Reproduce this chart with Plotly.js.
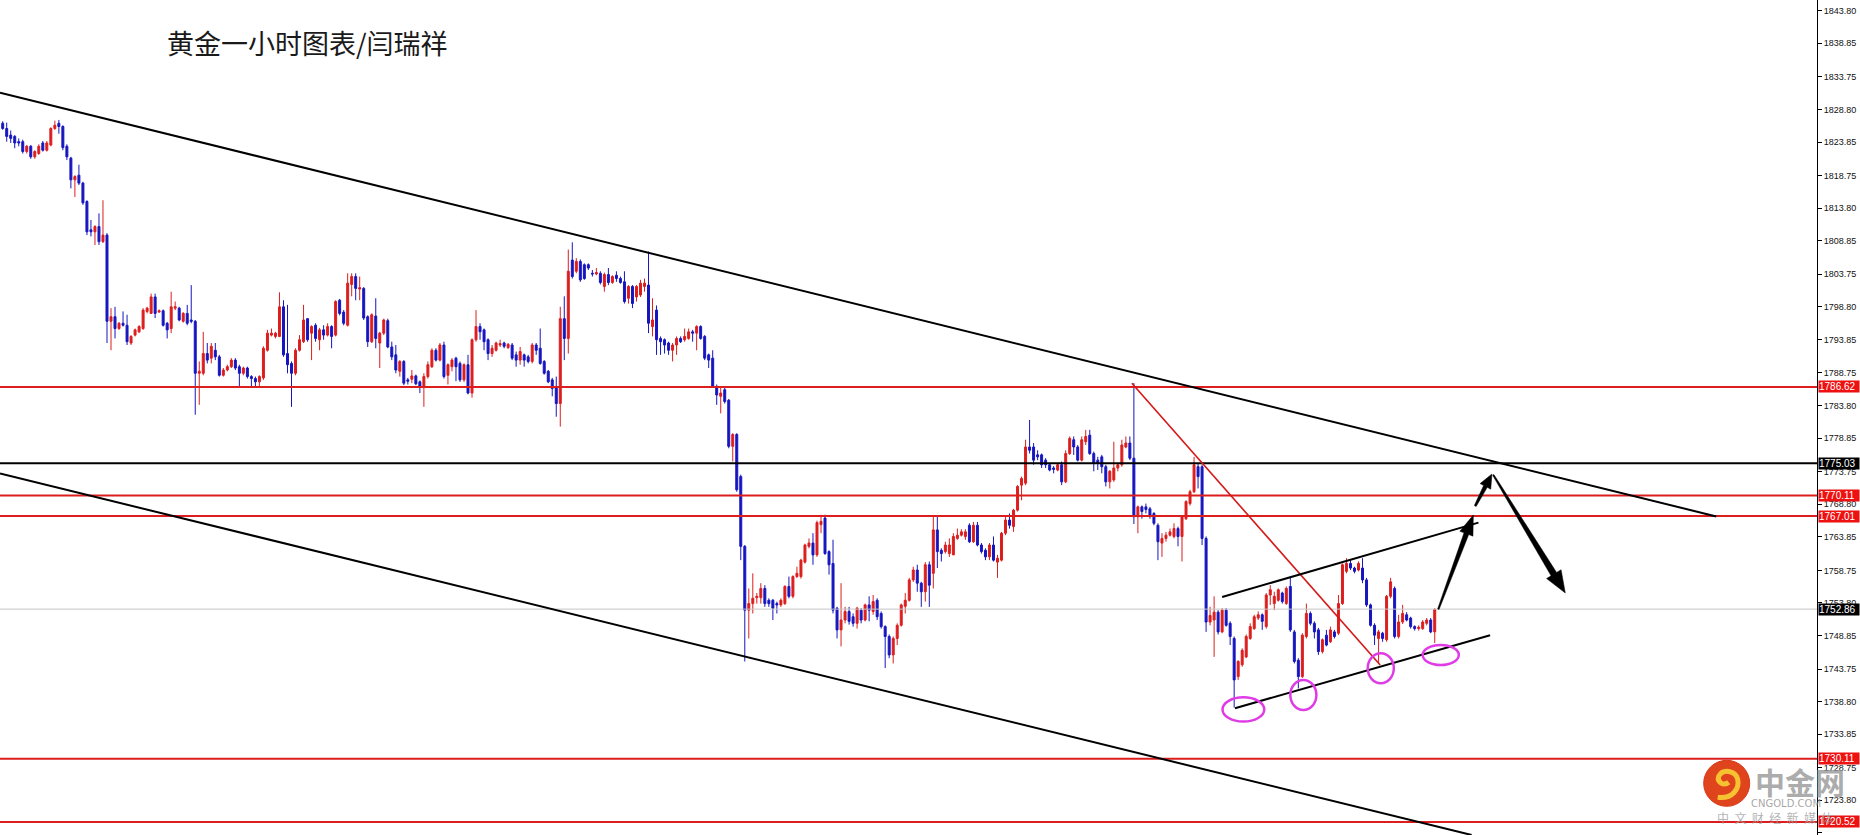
<!DOCTYPE html>
<html><head><meta charset="utf-8">
<script src="https://cdn.plot.ly/plotly-3.0.1.min.js"></script>
<style>html,body{margin:0;padding:0;background:#fff;overflow:hidden}#chart{width:1860px;height:835px}</style>
</head><body><div id="chart"></div>
<script>
const chartTitle = '黄金一小时图表/闫瑞祥';

const openP = [
1826.7,1825.9,1824.9,1824.7,1823.9,1823.9,1822.4,1823.2,1821.6,1822.1,1823.7,1822.6,1823.4,1825.9,1826.7,1826.2,1823.2,1821.4,1818.1,1818.8,
1817.6,1814.8,1810.5,1810.2,1811.0,1808.7,1809.7,1796.6,1797.3,1795.5,1796.3,1796.0,1793.3,1794.5,1795.0,1795.5,1798.1,1797.8,1800.3,1798.0,
1798.2,1796.3,1795.5,1798.6,1798.6,1796.6,1797.8,1796.8,1796.6,1788.7,1788.7,1791.7,1791.0,1792.2,1791.2,1788.4,1789.2,1789.7,1790.7,1789.7,
1788.7,1789.5,1788.2,1787.9,1787.4,1788.0,1792.2,1794.5,1794.3,1794.3,1798.8,1791.7,1790.2,1788.7,1792.2,1793.5,1797.0,1794.8,1796.0,1793.8,
1795.3,1794.5,1795.8,1794.5,1799.8,1798.0,1796.0,1802.2,1803.4,1801.5,1801.6,1797.3,1793.5,1797.4,1793.3,1794.8,1796.7,1792.7,1791.5,1789.0,
1790.5,1787.7,1787.8,1788.3,1787.4,1786.7,1788.2,1789.7,1792.2,1790.7,1793.0,1788.4,1789.7,1791.0,1790.2,1787.7,1790.0,1785.7,1793.8,1795.8,
1795.3,1793.8,1791.7,1792.2,1793.0,1793.3,1792.6,1793.0,1791.5,1790.7,1791.5,1791.2,1790.5,1793.0,1792.5,1790.5,1789.0,1787.7,1786.7,1784.1,
1797.0,1794.0,1805.9,1804.2,1805.7,1805.2,1805.2,1803.9,1803.8,1803.9,1801.9,1803.7,1802.5,1803.6,1803.1,1802.6,1800.1,1801.9,1800.3,1800.6,
1801.9,1802.1,1795.8,1798.3,1794.0,1793.8,1793.3,1792.2,1793.0,1794.0,1793.8,1794.0,1795.0,1794.8,1795.8,1794.3,1791.5,1791.0,1786.7,1785.2,
1786.2,1784.6,1777.6,1779.4,1773.0,1762.4,1752.7,1753.7,1754.6,1754.6,1756.0,1754.2,1754.2,1753.7,1753.5,1753.7,1756.3,1754.8,1757.8,1757.8,
1760.0,1762.4,1762.9,1761.1,1765.7,1766.7,1761.6,1759.8,1753.0,1749.7,1751.2,1752.5,1751.7,1750.7,1752.7,1751.2,1753.5,1752.5,1754.2,1752.2,
1750.2,1748.7,1745.9,1748.4,1750.4,1753.3,1754.2,1757.3,1758.8,1756.8,1755.5,1759.6,1758.3,1764.9,1761.8,1761.6,1761.3,1761.1,1763.6,1764.1,
1763.9,1765.6,1763.1,1765.6,1762.6,1761.8,1760.8,1762.6,1760.0,1760.3,1764.4,1766.4,1765.4,1767.9,1771.7,1772.0,1777.5,1777.5,1776.3,1776.3,
1775.5,1774.8,1774.3,1774.0,1774.8,1772.2,1776.5,1778.6,1777.5,1775.5,1778.3,1779.3,1776.5,1775.5,1776.0,1774.5,1772.2,1772.5,1774.3,1774.8,
1777.5,1778.1,1775.8,1766.9,1768.4,1768.4,1768.1,1767.4,1765.6,1762.9,1763.6,1764.1,1763.9,1765.1,1763.9,1766.6,1768.9,1770.7,1774.5,1774.5,
1763.6,1750.9,1751.2,1752.4,1749.4,1752.7,1750.7,1748.4,1742.6,1744.4,1745.6,1748.4,1749.9,1751.5,1752.0,1750.2,1755.0,1753.7,1754.2,1755.3,
1753.7,1756.3,1749.4,1745.1,1742.6,1748.7,1752.2,1750.7,1749.7,1746.4,1748.9,1747.9,1749.4,1749.2,1753.7,1758.6,1759.8,1759.1,1758.8,1759.1,
1757.3,1753.5,1750.4,1748.4,1749.2,1748.2,1754.8,1756.0,1748.7,1750.9,1752.0,1751.5,1750.2,1749.9,1749.9,1750.7,1751.2,1749.4
];
const highP = [
1827.0,1826.8,1825.6,1824.9,1824.4,1824.2,1823.4,1823.4,1822.6,1823.5,1824.0,1824.0,1826.1,1827.1,1827.2,1826.4,1823.5,1821.6,1818.8,1820.4,
1817.8,1815.0,1812.0,1811.2,1813.0,1815.0,1810.0,1798.6,1798.8,1796.5,1798.1,1797.6,1794.5,1795.5,1796.0,1798.6,1798.8,1800.8,1800.8,1798.4,
1798.4,1796.5,1801.1,1799.6,1798.8,1798.0,1799.1,1802.1,1796.8,1790.5,1795.0,1793.3,1793.3,1793.3,1791.5,1789.5,1790.0,1791.0,1791.0,1790.0,
1789.7,1789.7,1788.4,1788.2,1788.4,1792.8,1795.3,1795.5,1795.0,1801.0,1799.8,1799.1,1790.5,1792.5,1794.5,1799.1,1797.1,1796.0,1796.3,1795.6,
1796.0,1796.3,1796.0,1799.8,1800.0,1798.3,1803.9,1803.9,1803.9,1803.4,1801.8,1797.5,1797.8,1800.1,1795.0,1797.0,1797.0,1793.5,1793.0,1790.7,
1790.7,1788.0,1789.2,1788.5,1787.6,1788.7,1790.5,1792.5,1792.5,1793.3,1793.5,1790.2,1791.0,1791.2,1790.5,1790.2,1791.5,1794.0,1798.3,1796.3,
1795.5,1794.0,1793.0,1793.5,1793.8,1793.5,1793.3,1793.3,1792.0,1792.7,1791.7,1791.5,1793.3,1793.3,1795.5,1790.7,1789.2,1788.0,1788.2,1798.8,
1800.4,1807.5,1808.6,1806.2,1806.0,1805.4,1805.4,1804.4,1804.7,1804.2,1804.0,1804.7,1803.6,1804.2,1803.4,1804.2,1802.1,1802.1,1802.1,1802.9,
1803.1,1807.2,1800.1,1799.0,1794.3,1794.0,1793.5,1793.3,1794.3,1794.3,1795.5,1795.5,1795.3,1796.0,1796.0,1794.5,1791.7,1792.2,1787.0,1786.7,
1786.5,1784.8,1779.6,1779.6,1773.3,1762.6,1756.0,1758.3,1755.3,1756.8,1756.5,1754.5,1754.4,1754.0,1754.5,1756.5,1757.8,1758.0,1759.3,1760.5,
1762.8,1763.6,1764.4,1766.3,1767.2,1767.2,1761.8,1763.4,1753.2,1756.8,1753.2,1753.2,1752.2,1753.2,1753.0,1753.7,1754.8,1755.0,1754.5,1752.5,
1750.4,1749.0,1748.7,1750.7,1753.7,1755.3,1757.6,1759.3,1759.6,1757.0,1760.0,1760.1,1766.9,1766.9,1762.1,1763.1,1763.6,1764.4,1765.1,1765.0,
1765.0,1765.9,1766.1,1766.1,1762.9,1762.1,1762.9,1763.9,1761.1,1764.6,1766.9,1767.4,1768.1,1771.7,1773.0,1778.6,1781.6,1778.1,1777.0,1776.5,
1775.8,1775.0,1774.6,1775.0,1775.3,1777.0,1779.1,1779.1,1777.8,1779.1,1780.1,1780.1,1776.8,1776.0,1776.3,1774.8,1774.0,1778.3,1775.0,1778.6,
1779.1,1779.1,1787.2,1768.6,1768.6,1768.9,1768.4,1767.6,1765.9,1764.4,1764.6,1765.1,1765.9,1765.4,1767.1,1769.4,1771.0,1776.0,1775.0,1774.8,
1763.9,1753.2,1754.8,1752.7,1753.0,1753.0,1751.0,1748.7,1745.1,1746.9,1749.0,1750.7,1752.0,1752.5,1752.2,1755.3,1756.5,1755.5,1756.0,1755.5,
1756.3,1757.8,1749.7,1745.4,1749.2,1753.7,1752.5,1751.0,1750.0,1748.4,1749.7,1750.2,1749.7,1755.0,1759.8,1760.6,1760.3,1759.3,1760.1,1760.6,
1757.6,1753.7,1750.7,1749.7,1749.4,1755.0,1757.6,1756.3,1752.0,1753.5,1752.4,1751.7,1750.4,1750.4,1751.2,1751.5,1751.5,1753.0
];
const lowP = [
1825.7,1823.9,1823.7,1822.9,1823.2,1822.1,1822.1,1821.3,1821.3,1821.9,1822.4,1822.4,1823.2,1825.7,1825.1,1822.6,1821.1,1816.8,1815.5,1817.3,
1814.3,1809.7,1809.5,1808.2,1808.2,1808.5,1793.3,1792.2,1794.0,1795.3,1795.8,1793.0,1793.0,1794.3,1794.8,1795.3,1797.8,1797.7,1797.1,1797.9,
1795.8,1794.0,1794.8,1798.3,1796.6,1796.4,1796.0,1796.3,1782.4,1783.9,1788.4,1790.2,1790.2,1790.7,1788.2,1788.2,1789.0,1789.5,1789.2,1786.7,
1788.4,1787.9,1786.7,1786.7,1786.7,1787.7,1792.0,1794.3,1794.0,1794.2,1791.2,1788.7,1783.6,1788.4,1792.0,1793.3,1793.5,1790.7,1793.5,1792.2,
1793.8,1794.3,1792.5,1794.3,1797.5,1796.0,1795.8,1800.4,1799.8,1799.8,1796.8,1792.7,1793.3,1792.5,1789.5,1794.5,1792.5,1790.7,1788.7,1788.2,
1786.9,1787.0,1787.2,1786.9,1785.7,1783.6,1787.9,1789.5,1790.5,1790.5,1787.9,1787.0,1789.0,1787.5,1787.4,1787.4,1785.5,1785.0,1793.5,1793.8,
1792.2,1790.7,1791.2,1792.0,1792.7,1792.5,1792.4,1790.7,1789.7,1790.0,1789.7,1790.2,1790.2,1791.5,1790.0,1788.5,1787.2,1785.2,1782.1,1780.6,
1790.7,1791.7,1803.1,1803.9,1802.6,1802.9,1804.4,1803.4,1803.6,1802.2,1801.1,1802.1,1802.3,1802.6,1802.3,1799.3,1799.3,1798.6,1799.6,1800.3,
1801.1,1794.8,1794.3,1791.5,1791.5,1791.7,1791.5,1790.5,1791.5,1793.3,1793.5,1793.8,1793.5,1792.2,1793.8,1790.7,1789.5,1786.5,1783.9,1782.6,
1784.1,1777.3,1775.3,1770.7,1760.3,1744.9,1748.4,1752.2,1753.7,1753.7,1753.2,1753.2,1751.2,1752.2,1753.2,1753.5,1754.5,1754.5,1757.6,1757.5,
1759.8,1762.1,1759.6,1760.8,1764.4,1761.1,1758.1,1752.2,1748.4,1747.2,1750.7,1750.5,1750.2,1749.9,1750.7,1751.0,1751.0,1752.0,1751.2,1749.9,
1743.9,1745.4,1744.6,1747.4,1750.2,1752.2,1754.0,1757.0,1755.5,1753.2,1754.0,1753.2,1756.0,1759.1,1760.1,1761.3,1760.8,1761.1,1763.4,1763.9,
1763.4,1762.9,1762.9,1762.4,1761.3,1760.3,1760.3,1760.1,1757.6,1760.1,1764.1,1765.1,1764.6,1767.7,1769.4,1771.7,1776.5,1774.8,1775.5,1774.3,
1774.3,1773.8,1773.5,1773.8,1771.7,1772.0,1776.3,1776.3,1775.3,1775.3,1777.8,1776.3,1773.8,1774.0,1773.5,1771.5,1771.2,1772.2,1773.8,1774.5,
1777.3,1775.5,1765.8,1764.4,1766.6,1767.4,1766.6,1765.6,1760.3,1760.8,1763.1,1763.9,1763.6,1762.4,1760.1,1766.4,1768.6,1770.5,1771.2,1762.6,
1749.4,1750.4,1745.6,1749.0,1749.2,1750.2,1747.4,1737.9,1742.1,1744.1,1745.4,1748.2,1749.7,1751.2,1749.7,1749.9,1753.5,1752.7,1754.0,1753.7,
1753.5,1749.4,1744.6,1740.8,1742.4,1748.4,1750.4,1748.4,1745.9,1746.1,1747.2,1747.7,1748.4,1748.9,1753.5,1758.3,1758.8,1758.3,1758.6,1756.8,
1753.2,1750.2,1747.4,1744.6,1747.9,1747.9,1754.5,1748.4,1748.4,1750.6,1751.0,1749.9,1749.6,1749.6,1749.7,1750.4,1749.2,1747.7
];
const closeP = [
1825.9,1824.7,1824.4,1823.7,1823.7,1822.4,1823.2,1821.6,1822.4,1823.2,1822.6,1823.7,1825.9,1826.4,1826.2,1823.0,1821.6,1818.1,1818.6,1817.6,
1814.6,1810.2,1810.2,1811.0,1808.7,1809.7,1796.6,1797.3,1795.5,1796.3,1796.0,1793.5,1794.3,1795.3,1795.8,1798.3,1798.6,1800.3,1797.8,1798.2,
1796.0,1795.3,1798.8,1798.8,1796.8,1797.8,1796.3,1796.6,1788.7,1789.0,1791.7,1790.7,1792.8,1791.2,1788.4,1789.2,1789.7,1790.7,1789.5,1788.7,
1789.5,1788.2,1787.9,1787.4,1788.2,1792.5,1794.8,1794.8,1794.8,1798.8,1791.5,1790.0,1788.7,1792.2,1793.8,1796.8,1793.8,1795.8,1794.0,1795.3,
1794.5,1795.8,1794.3,1799.6,1797.8,1796.3,1802.4,1803.4,1801.6,1801.7,1797.1,1793.5,1797.6,1794.0,1794.8,1796.8,1792.7,1791.2,1789.2,1790.5,
1787.2,1787.5,1788.3,1787.1,1786.7,1788.2,1790.0,1792.2,1790.7,1793.0,1788.2,1790.0,1790.7,1789.7,1787.7,1790.0,1785.7,1793.8,1795.8,1795.0,
1793.5,1791.7,1792.5,1793.3,1793.2,1792.8,1793.1,1791.0,1790.7,1792.0,1790.7,1790.5,1793.0,1792.2,1790.2,1788.7,1787.4,1786.4,1784.1,1797.0,
1794.0,1804.2,1803.4,1805.7,1802.9,1803.1,1804.7,1803.8,1804.0,1802.5,1803.7,1802.5,1803.4,1803.1,1802.5,1799.6,1801.9,1799.3,1801.9,1802.4,
1802.4,1796.3,1796.8,1793.8,1793.5,1793.0,1792.2,1793.0,1794.0,1793.5,1794.3,1795.0,1794.8,1795.8,1794.0,1791.0,1790.7,1786.7,1785.4,1785.7,
1784.4,1777.6,1779.4,1771.0,1762.4,1752.7,1753.7,1754.5,1754.8,1756.0,1753.7,1753.7,1753.0,1753.5,1754.2,1756.3,1754.8,1757.8,1758.3,1760.3,
1762.6,1762.9,1761.1,1766.0,1766.2,1761.3,1759.6,1752.7,1749.7,1751.2,1752.5,1751.0,1750.7,1753.0,1751.2,1753.5,1752.7,1754.0,1751.7,1750.2,
1748.7,1745.9,1748.4,1750.4,1753.5,1754.2,1757.3,1758.8,1756.8,1755.5,1759.6,1756.5,1764.9,1761.6,1761.3,1762.6,1762.6,1763.9,1764.1,1764.6,
1764.6,1763.1,1765.6,1762.6,1761.6,1760.8,1762.6,1760.3,1760.6,1764.4,1766.4,1765.6,1767.9,1771.5,1772.7,1777.5,1777.0,1775.5,1776.0,1774.8,
1774.8,1774.0,1774.1,1774.8,1772.2,1776.5,1778.8,1777.5,1775.5,1778.6,1779.1,1776.5,1775.0,1775.0,1774.5,1772.2,1773.8,1774.3,1774.8,1777.8,
1778.1,1775.8,1766.9,1768.4,1767.7,1768.0,1767.1,1765.9,1763.1,1763.6,1764.1,1764.6,1765.1,1763.9,1766.9,1769.2,1770.7,1774.8,1773.0,1763.6,
1750.9,1751.9,1752.4,1749.4,1752.7,1750.4,1748.7,1742.1,1744.9,1746.6,1748.7,1750.2,1751.7,1752.0,1751.0,1755.0,1755.8,1754.8,1755.8,1754.0,
1756.0,1749.7,1744.9,1742.6,1748.9,1752.2,1750.7,1749.4,1746.4,1748.2,1747.4,1749.7,1748.7,1753.7,1759.6,1759.8,1759.1,1758.6,1759.8,1757.3,
1753.5,1750.4,1748.9,1749.4,1748.4,1754.8,1757.0,1748.7,1750.9,1752.2,1751.2,1750.2,1749.9,1750.1,1750.9,1751.2,1749.4,1752.8
];

const tickValues = [1843.80,1838.85,1833.75,1828.80,1823.85,1818.75,1813.80,1808.85,1803.75,1798.80,1793.85,1788.75,1783.80,
  1778.85,1773.75,1768.80,1763.85,1758.75,1753.80,1748.85,1743.75,1738.80,1733.85,1728.75,1723.80,1718.85];
const redLevels = [1786.62, 1770.11, 1767.01, 1730.11, 1720.52];
const blackLevel = 1775.03;
const lastPrice = 1752.86;

const RED = '#dc1e1e', BLUE = '#1616c0', LBL_RED = '#ee1111', MAG = '#e03ce6';
const TICKFONT = 'Liberation Sans, Arial, sans-serif';
const xIdx = openP.map((_, i) => i);

const trace = {
  type: 'candlestick', x: xIdx, open: openP, high: highP, low: lowP, close: closeP,
  increasing: {line: {color: RED, width: 1}, fillcolor: RED},
  decreasing: {line: {color: BLUE, width: 1}, fillcolor: BLUE},
  whiskerwidth: 0, hoverinfo: 'skip', showlegend: false
};

const shapes = [];
const annotations = [];

// horizontal price levels
shapes.push({type:'line', xref:'paper', x0:0, x1:1, yref:'y', y0:lastPrice, y1:lastPrice, line:{color:'#c4c4c4', width:1}});
redLevels.forEach(v => shapes.push({type:'line', xref:'paper', x0:0, x1:1, yref:'y', y0:v, y1:v, line:{color:RED, width:2}}));
shapes.push({type:'line', xref:'paper', x0:0, x1:1, yref:'y', y0:blackLevel, y1:blackLevel, line:{color:'#000', width:2}});

// trend lines (index, price)
const trendLines = [
  {p:[-0.67, 1831.35, 427.2, 1766.94], c:'#000', w:2},
  {p:[-0.67, 1773.47, 366.2, 1718.53], c:'#000', w:2},
  {p:[281.5, 1787.18, 343.4, 1744.37], c:'#d41818', w:1.6},
  {p:[304.0, 1754.7, 367.9, 1766.0], c:'#000', w:2},
  {p:[307.2, 1737.8, 370.8, 1748.9], c:'#000', w:2}
];
trendLines.forEach(t => shapes.push({type:'line', xref:'x', yref:'y', x0:t.p[0], y0:t.p[1], x1:t.p[2], y1:t.p[3], line:{color:t.c, width:t.w}}));

// magenta ellipses
const ellipses = [[304.1,314.5,1739.46,1735.77],[321.0,327.5,1742.09,1737.53],[340.3,346.8,1746.15,1741.59],[354.0,363.0,1747.41,1744.37]];
ellipses.forEach(e => shapes.push({type:'circle', xref:'x', yref:'y', x0:e[0], x1:e[1], y0:e[2], y1:e[3], line:{color:MAG, width:2.5}}));

// arrows as tapered polygons (pixel offsets from a data anchor)
function arrowPath(dx, dy, w0, w1, headLen, headHalf) {
  const L = Math.hypot(dx, dy), ux = dx / L, uy = dy / L, nx = -uy, ny = ux;
  const bx = dx - ux * headLen, by = dy - uy * headLen;
  const pts = [[nx*w0/2, ny*w0/2], [bx+nx*w1/2, by+ny*w1/2], [bx+nx*headHalf, by+ny*headHalf], [dx, dy],
               [bx-nx*headHalf, by-ny*headHalf], [bx-nx*w1/2, by-ny*w1/2], [-nx*w0/2, -ny*w0/2]];
  return 'M' + pts.map(p => p[0].toFixed(1) + ',' + p[1].toFixed(1)).join('L') + 'Z';
}
const arrows = [
  {ax:357.9, ay:1752.84, dx:35, dy:94.3, w0:1.5, w1:5, hl:20, hh:7},
  {ax:367.1, ay:1768.53, dx:16.7, dy:32, w0:2, w1:4, hl:14, hh:6},
  {ax:371.6, ay:1773.25, dx:72, dy:-118, w0:1.5, w1:6.5, hl:22, hh:8.5}
];
arrows.forEach(a => shapes.push({type:'path', xref:'x', yref:'y', xsizemode:'pixel', ysizemode:'pixel',
  xanchor:a.ax, yanchor:a.ay, path:arrowPath(a.dx, a.dy, a.w0, a.w1, a.hl, a.hh), fillcolor:'#000', line:{color:'#000', width:0.5}}));

// logo
shapes.push({type:'circle', xref:'paper', yref:'paper', xsizemode:'pixel', ysizemode:'pixel', xanchor:0.9503, yanchor:0.0619,
  x0:-23, x1:23, y0:-23, y1:23, fillcolor:'#e0441c', line:{color:'#d83818', width:1}, layer:'above'});
shapes.push({type:'path', xref:'paper', yref:'paper', xsizemode:'pixel', ysizemode:'pixel', xanchor:0.9503, yanchor:0.0619,
  path:'M-9,-14 C6,-16 13,-5 11,4 C9,13 -4,15 -8,7 C-10,1 -3,-3 2,1', line:{color:'#f7c232', width:5}, layer:'above'});

// price labels on the axis
function priceLabel(v, bg) {
  annotations.push({xref:'paper', x:1, xanchor:'left', xshift:1, yref:'y', y:v, yanchor:'middle', text:v.toFixed(2),
    showarrow:false, bgcolor:bg, font:{family:TICKFONT, size:10, color:'#fff'}, width:40, height:11, borderpad:0, align:'left'});
}
redLevels.forEach(v => priceLabel(v, LBL_RED));
priceLabel(blackLevel, '#000');
priceLabel(lastPrice, '#000');

// title
annotations.push({xref:'paper', yref:'paper', x:165/1817, y:1 - 42.5/835, xanchor:'left', yanchor:'middle', showarrow:false,
  text:chartTitle, font:{family:'Noto Sans CJK SC, sans-serif', size:27, color:'#1a1a1a'}});

// watermark
annotations.push({xref:'paper', yref:'paper', x:1800/1817, y:1 - 781/835, xanchor:'center', yanchor:'middle', showarrow:false,
  text:'<b>中金网</b>', font:{family:'Noto Sans CJK SC, sans-serif', size:30, color:'rgba(150,150,150,0.8)'}});
annotations.push({xref:'paper', yref:'paper', x:1786/1817, y:1 - 803/835, xanchor:'center', yanchor:'middle', showarrow:false,
  text:'CNGOLD.COM', font:{family:'DejaVu Sans, sans-serif', size:10, color:'rgba(150,150,150,0.85)'}});
annotations.push({xref:'paper', yref:'paper', x:1775/1817, y:1 - 817/835, xanchor:'center', yanchor:'middle', showarrow:false,
  text:'中  文  财  经  新  媒  体', font:{family:'Noto Sans CJK SC, sans-serif', size:12, color:'rgba(160,160,160,0.8)'}});

const layout = {
  width:1860, height:835, margin:{l:0, r:43, t:0, b:0, pad:0},
  paper_bgcolor:'#fff', plot_bgcolor:'#fff', showlegend:false,
  xaxis:{range:[-0.673, 452.3], visible:false, rangeslider:{visible:false}, showgrid:false, zeroline:false, fixedrange:true},
  yaxis:{side:'right', range:[1718.53, 1845.43], tickvals:tickValues, ticktext:tickValues.map(v => v.toFixed(2)),
    ticks:'outside', ticklen:4, tickcolor:'#000', showline:true, linecolor:'#000', linewidth:1, showgrid:false, zeroline:false,
    tickfont:{family:TICKFONT, size:9, color:'#111'}, automargin:false, fixedrange:true},
  shapes:shapes, annotations:annotations
};

Plotly.newPlot('chart', [trace], layout, {staticPlot:true, displayModeBar:false});
</script>
</body></html>
